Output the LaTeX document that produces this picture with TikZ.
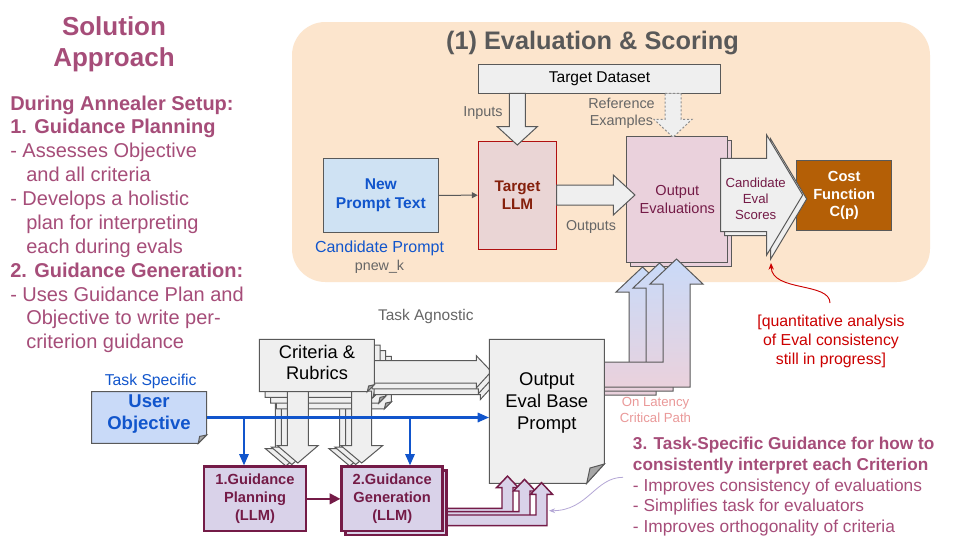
\documentclass[tikz,border=0pt]{standalone}
\usepackage{fontspec}
\setmainfont{Liberation Sans}
\usetikzlibrary{arrows.meta}
\newcommand*\myfs[2]{\fontsize{#1}{#2}\selectfont}
\definecolor{mag}{HTML}{A64D79}
\definecolor{dmag}{HTML}{741B47}
\definecolor{gblue}{HTML}{1155CC}
\definecolor{lblue}{HTML}{CFE2F3}
\definecolor{cblue}{HTML}{C9DAF8}
\definecolor{bgor}{HTML}{FCE5CD}
\definecolor{costor}{HTML}{B45F06}
\definecolor{lgray}{HTML}{EFEFEF}
\definecolor{dgray}{HTML}{595959}
\definecolor{mgray}{HTML}{666666}
\definecolor{lmag}{HTML}{EAD1DC}
\definecolor{lpur}{HTML}{D9D2E9}
\definecolor{tllm}{HTML}{EAD5D5}
\definecolor{tllmtxt}{HTML}{85200C}
\definecolor{tllmbd}{HTML}{B01010}
\definecolor{redtxt}{HTML}{CC0000}
\definecolor{lpink}{HTML}{EA9999}
\definecolor{curvepur}{HTML}{B4A7D6}
\definecolor{foldgray}{HTML}{A6A6A6}
\begin{document}
\begin{tikzpicture}[x=0.75pt,y=-0.75pt,
 box/.style={draw=dgray, line width=0.75pt, inner sep=0pt, align=center},
 garrow/.style={draw=dgray, fill=lgray, line width=0.75pt, line join=miter},
 gbox/.style={draw=dmag, fill=lpur, line width=2pt, inner sep=0pt, align=center, text=dmag, font=\bfseries\myfs{11}{13.5}},
 parrow/.style={draw=dmag, fill=lpur, line width=1.1pt, line join=miter},
 barrow/.style={draw=dgray, top color=cblue, bottom color=lmag, line width=0.75pt, line join=miter},
 bline/.style={draw=gblue, line width=1.6pt, -{Triangle[length=8.5pt,width=7pt]}},
 lefttxt/.style={anchor=base west, inner sep=0pt, text=mag, font=\myfs{15}{18}},
 plain/.style={anchor=base, inner sep=0pt},
 folded/.style={draw=dgray, line width=0.75pt, line join=miter},
]
\useasboundingbox (0,0) rectangle (960,540);
\fill[white] (0,0) rectangle (960,540);
\fill[bgor, rounded corners=25pt] (292,22) rectangle (930,282);

% ---- left column
\node[plain, text=mag, font=\bfseries\myfs{19.5}{23}] (sol1) at (114,35) {Solution};
\node[plain, text=mag, font=\bfseries\myfs{19.5}{23}] (sol2) at (114,66.7) {Approach};
\node[lefttxt, font=\bfseries\myfs{15}{18}] (l1) at (10,110) {During Annealer Setup:};
\node[lefttxt, font=\bfseries\myfs{15}{18}] (l2) at (10,133.9) {1. Guidance Planning};
\node[lefttxt] (l3) at (10,157.7) {- Assesses Objective};
\node[lefttxt] (l4) at (26,181.6) {and all criteria};
\node[lefttxt] (l5) at (10,205.4) {- Develops a holistic};
\node[lefttxt] (l6) at (26,229.3) {plan for interpreting};
\node[lefttxt] (l7) at (26,253.1) {each during evals};
\node[lefttxt, font=\bfseries\myfs{15}{18}] (l8) at (10,277.2) {2. Guidance Generation:};
\node[lefttxt] (l9) at (10,301) {- Uses Guidance Plan and};
\node[lefttxt] (l10) at (26,324.8) {Objective to write per-};
\node[lefttxt] (l11) at (26,348.6) {criterion guidance};

% ---- evaluation & scoring
\node[plain, text=dgray, font=\bfseries\myfs{19}{22}] (title) at (592.5,49.3) {(1) Evaluation \& Scoring};
\node[box, fill=lgray, minimum width=181.8pt, minimum height=21.75pt, font=\myfs{11.7}{14}] (ds) at (599.5,78.8) {Target Dataset};
\node[box, draw=tllmbd, fill=tllm, minimum width=58.8pt, minimum height=81.2pt, text=tllmtxt, font=\bfseries\myfs{11.5}{13.7}] (tllm) at (517.5,195.2) {Target\\LLM};
\filldraw[garrow] (509.3,93.3) -- (525.3,93.3) -- (525.3,126.7) -- (537.3,126.7) -- (517.3,145) -- (497.3,126.7) -- (509.3,126.7) -- cycle;
\node[box, fill=lblue, minimum width=86.25pt, minimum height=55.5pt, text=gblue, font=\bfseries\myfs{11.7}{14.25}] (np) at (380.8,195.3) {New\\Prompt Text};
\draw[draw=dgray, line width=0.75pt, -{Triangle[length=4.5pt,width=4.5pt]}] (np.east) -- (tllm.west);
\node[plain, text=gblue, font=\myfs{12}{14}] (cp) at (379.5,252.3) {Candidate Prompt};
\node[plain, text=mgray, font=\myfs{10.7}{13}] (pk) at (379.5,270) {pnew\_k};
\node[plain, text=mgray, font=\myfs{10.8}{13}] (inl) at (483,116.7) {Inputs};
\node[plain, text=mgray, font=\myfs{10.7}{13}] (outl) at (591,230.7) {Outputs};
\node[plain, text=mgray, font=\myfs{10.8}{13}] (ref1) at (621.5,108.3) {Reference};
\node[plain, text=mgray, font=\myfs{10.8}{13}] (ref2) at (621.5,125.7) {Examples};

\node[box, fill=lmag, minimum width=75.75pt, minimum height=94.7pt] (oeb) at (681.3,203.8) {};
\node[box, fill=lmag, minimum width=75.75pt, minimum height=94.7pt, text=dmag, font=\myfs{10.9}{13.7}] (oe) at (677.3,199.8) {Output\\Evaluations};
\filldraw[garrow] (556.7,185) -- (613.3,185) -- (613.3,175) -- (635,195) -- (613.3,215) -- (613.3,205) -- (556.7,205) -- cycle;
\filldraw[fill=lgray, draw=gray!90, line width=0.75pt, dash pattern=on 1.5pt off 1.5pt] (665,93.3) -- (681,93.3) -- (681,119.3) -- (692,119.3) -- (673,137.3) -- (654,119.3) -- (665,119.3) -- cycle;

\node[box, fill=costor, minimum width=71.25pt, minimum height=52.7pt, text=white, font=\bfseries\myfs{11}{13.1}] (cost) at (844.2,195.8) {Cost\\Function\\C(p)};
\begin{scope}[shift={(4,4)}]
\filldraw[garrow] (720.7,158.3) -- (766.7,158.3) -- (766.7,135) -- (802.7,195) -- (766.7,255) -- (766.7,231.7) -- (720.7,231.7) -- cycle;
\end{scope}
\filldraw[garrow] (720.7,158.3) -- (766.7,158.3) -- (766.7,135) -- (802.7,195) -- (766.7,255) -- (766.7,231.7) -- (720.7,231.7) -- cycle;
\node[align=center, inner sep=0pt, text=dmag, font=\myfs{9.9}{12}] (ces) at (755.7,199.2) {Candidate\\Eval\\Scores};

% ---- blue bent arrows (prompt -> output evaluations)
\foreach \dx/\dy in {-34/8,-17/4,0/0}{
 \begin{scope}[shift={(\dx,\dy)}]
 \shadedraw[barrow] (560,362) -- (663,362) -- (663,284) -- (650,284) -- (676.5,259) -- (703,284) -- (690,284) -- (690,387) -- (560,387) -- cycle;
 \end{scope}
}

% ---- criteria & rubrics group
\foreach \dx/\dy in {-12/3,-6/1.5}{
 \begin{scope}[shift={(\dx,\dy)}]
 \filldraw[garrow] (287.3,395) -- (308.3,395) -- (308.3,445.7) -- (318,445.7) -- (297.8,463) -- (277.5,445.7) -- (287.3,445.7) -- cycle;
 \filldraw[garrow] (351.7,395) -- (371.7,395) -- (371.7,445.7) -- (382.5,445.7) -- (361.7,463) -- (341,445.7) -- (351.7,445.7) -- cycle;
 \end{scope}
}
\foreach \k in {3,2,1}{
 \begin{scope}[shift={(5.7*\k,5.7*\k)}]
 \filldraw[folded, fill=lgray] (259.3,339.3) -- (374.3,339.3) -- (374.3,384.7) -- (367.3,391.7) -- (259.3,391.7) -- cycle;
 \filldraw[folded, fill=foldgray] (374.3,384.7) -- (367.3,391.7) -- (368.6,386) -- cycle;
 \end{scope}
}
\foreach \dx/\dy in {4/11.6,2/5.8,0/0}{
 \begin{scope}[shift={(\dx,\dy)}]
 \filldraw[garrow] (370,360.7) -- (476.3,360.7) -- (476.3,355.7) -- (491.3,371.5) -- (476.3,388) -- (476.3,383) -- (370,383) -- cycle;
 \end{scope}
}
\filldraw[garrow] (287.3,391) -- (308.3,391) -- (308.3,445.7) -- (318,445.7) -- (297.8,463) -- (277.5,445.7) -- (287.3,445.7) -- cycle;
\filldraw[garrow] (351.7,391) -- (371.7,391) -- (371.7,445.7) -- (382.5,445.7) -- (361.7,463) -- (341,445.7) -- (351.7,445.7) -- cycle;
\filldraw[folded, fill=lgray] (259.3,339.3) -- (374.3,339.3) -- (374.3,384.7) -- (367.3,391.7) -- (259.3,391.7) -- cycle;
\filldraw[folded, fill=foldgray] (374.3,384.7) -- (367.3,391.7) -- (368.6,386) -- cycle;
\node[align=center, inner sep=0pt, font=\myfs{13.7}{15.75}] (crittxt) at (317,362) {Criteria \&\\Rubrics};
\node[plain, text=mgray, font=\myfs{11.6}{14}] (tagn) at (425.8,320.7) {Task Agnostic};

% ---- output eval base prompt
\filldraw[folded, fill=lgray] (489.3,339.3) -- (604.3,339.3) -- (604.3,464) -- (586.7,483.3) -- (489.3,483.3) -- cycle;
\filldraw[folded, fill=foldgray] (604.3,464) -- (586.7,483.3) -- (590,468) -- cycle;
\node[minimum width=86.25pt, minimum height=108pt, inner sep=0pt] (prompt) at (546.8,411.3) {};
\node[align=center, inner sep=0pt, font=\myfs{13.8}{16.5}] (prompttxt) at (546.8,403) {Output\\Eval Base\\Prompt};
\node[plain, text=lpink, font=\myfs{9.9}{12}] (lat1) at (655.5,406.7) {On Latency};
\node[plain, text=lpink, font=\myfs{9.9}{12}] (lat2) at (655.5,422.7) {Critical Path};

% ---- purple bent arrows (guidance generation -> prompt)
\foreach \dx/\dy in {-34/-6.6,-17/-3.3,0/0}{
 \begin{scope}[shift={(\dx,\dy)}]
 \filldraw[parrow] (420,515) -- (536,515) -- (536,494.3) -- (530.5,494.3) -- (541.5,482.7) -- (552.5,494.3) -- (547,494.3) -- (547,525.7) -- (420,525.7) -- cycle;
 \end{scope}
}

% ---- guidance boxes
\node[gbox, minimum width=75.75pt, minimum height=48.2pt] (ggb) at (396.2,502.85) {};
\node[gbox, minimum width=75.75pt, minimum height=48.2pt] (gg) at (392.2,498.85) {2.Guidance\\Generation\\(LLM)};
\node[gbox, minimum width=76.5pt, minimum height=48.2pt] (gp) at (255,498.85) {1.Guidance\\Planning\\(LLM)};
\draw[draw=dmag, line width=1.5pt, -{Triangle[length=8pt,width=8pt]}] (gp.east) -- (gg.west);

% ---- user objective
\filldraw[folded, fill=cblue] (91.7,391.7) -- (206.7,391.7) -- (206.7,435) -- (198.3,443.3) -- (91.7,443.3) -- cycle;
\filldraw[folded, fill=foldgray] (206.7,435) -- (198.3,443.3) -- (199.6,436.4) -- cycle;
\node[minimum width=86.25pt, minimum height=38.7pt, inner sep=0pt] (uo) at (149.2,417.5) {};
\node[align=center, inner sep=0pt, text=gblue, font=\bfseries\myfs{13.9}{16.3}] (uotxt) at (149,414.2) {User\\Objective};
\node[plain, text=gblue, font=\myfs{11.8}{14}] (tspec) at (150.7,385) {Task Specific};

\coordinate (j1) at (244,417.5);
\coordinate (j2) at (410,417.5);
\draw[bline] (uo.east) -- (uo.east -| prompt.west);
\draw[bline] (j1) -- (j1 |- gp.north);
\draw[bline] (j2) -- (j2 |- gg.north);

% ---- guidance description
\node[anchor=base west, inner sep=0pt, text=mag, font=\bfseries\myfs{12.9}{15}] (g1) at (632.7,449) {3. Task-Specific Guidance for how to};
\node[anchor=base west, inner sep=0pt, text=mag, font=\bfseries\myfs{12.9}{15}] (g2) at (632.7,470) {consistently interpret each Criterion};
\node[anchor=base west, inner sep=0pt, text=mag, font=\myfs{13}{15}] (g3) at (632.7,491) {- Improves consistency of evaluations};
\node[anchor=base west, inner sep=0pt, text=mag, font=\myfs{13}{15}] (g4) at (632.7,511.5) {- Simplifies task for evaluators};
\node[anchor=base west, inner sep=0pt, text=mag, font=\myfs{13}{15}] (g5) at (632.7,532) {- Improves orthogonality of criteria};
\coordinate (pcs) at (623,477.3);
\coordinate (pct) at (549,510.7);
\draw[curvepur, line width=0.6pt, -{Stealth[length=4.5pt,width=3.5pt]}] (pcs) .. controls (595,477.3) and (588,510.7) .. (pct);

% ---- red note
\node[align=center, inner sep=0pt, text=redtxt, font=\myfs{11.9}{14.25}] (rednote) at (831,341.5) {[quantitative analysis\\of Eval consistency\\still in progress]};
\coordinate (rcs) at (830,303);
\coordinate (rct) at (771,263);
\draw[redtxt, line width=0.7pt, -{Stealth[length=5pt,width=4pt]}] (rcs) .. controls (830,282) and (772,292) .. (rct);
\end{tikzpicture}
\end{document}
